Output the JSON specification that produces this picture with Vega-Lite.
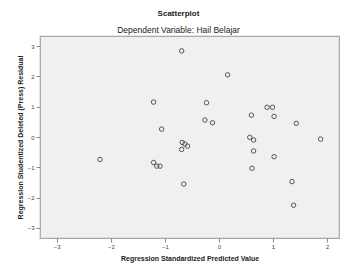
{
  "$schema": "https://vega.github.io/schema/vega-lite/v6.json",
  "width": 299,
  "height": 202,
  "autosize": {"type": "none"},
  "padding": {"left": 40, "top": 36, "right": 5, "bottom": 31},
  "background": "white",
  "title": {
    "text": "Scatterplot",
    "subtitle": "Dependent Variable: Hail Belajar",
    "font": "Liberation Sans",
    "fontSize": 8,
    "fontWeight": "bold",
    "color": "#222",
    "subtitleFont": "Liberation Sans",
    "subtitleFontSize": 8.5,
    "subtitleColor": "#222",
    "subtitlePadding": 8,
    "anchor": "middle",
    "dx": -11,
    "offset": 2
  },
  "config": {
    "view": {"fill": "#f0f0f0", "stroke": "#a8a8a8", "strokeWidth": 1.2}
  },
  "data": {
    "values": [
      {"pred": -0.69, "resid": 2.84},
      {"pred": -1.21, "resid": 1.15},
      {"pred": -1.06, "resid": 0.26},
      {"pred": 0.16, "resid": 2.05},
      {"pred": -0.23, "resid": 1.13},
      {"pred": -0.26, "resid": 0.56},
      {"pred": -0.12, "resid": 0.47},
      {"pred": 0.6, "resid": 0.72},
      {"pred": 0.89, "resid": 0.98},
      {"pred": 0.99, "resid": 0.98},
      {"pred": 1.02, "resid": 0.68},
      {"pred": 1.43, "resid": 0.45},
      {"pred": -0.68, "resid": -0.18},
      {"pred": -0.63, "resid": -0.23},
      {"pred": -0.58, "resid": -0.3},
      {"pred": -0.69, "resid": -0.41},
      {"pred": -2.2, "resid": -0.74},
      {"pred": -1.21, "resid": -0.84},
      {"pred": -1.15, "resid": -0.96},
      {"pred": -1.09, "resid": -0.96},
      {"pred": -0.65, "resid": -1.55},
      {"pred": 0.57, "resid": -0.01},
      {"pred": 0.64, "resid": -0.1},
      {"pred": 0.64, "resid": -0.46},
      {"pred": 1.02, "resid": -0.65},
      {"pred": 0.61, "resid": -1.03},
      {"pred": 1.88, "resid": -0.07},
      {"pred": 1.35, "resid": -1.47},
      {"pred": 1.38, "resid": -2.25}
    ]
  },
  "mark": {"type": "point", "shape": "circle", "filled": false, "size": 20, "stroke": "#555", "strokeWidth": 1, "opacity": 1},
  "encoding": {
    "x": {
      "field": "pred",
      "type": "quantitative",
      "scale": {"domain": [-3.31, 2.22], "nice": false, "zero": false},
      "axis": {
        "title": "Regression Standardized Predicted Value",
        "values": [-3, -2, -1, 0, 1, 2],
        "format": "d",
        "grid": false,
        "domain": false,
        "tickSize": 4,
        "tickColor": "#888",
        "labelFont": "Liberation Sans",
        "labelFontSize": 6,
        "labelColor": "#444",
        "labelPadding": 1,
        "titleFont": "Liberation Sans",
        "titleFontSize": 7,
        "titleFontWeight": "bold",
        "titleColor": "#222",
        "titlePadding": 5
      }
    },
    "y": {
      "field": "resid",
      "type": "quantitative",
      "scale": {"domain": [-3.33, 3.33], "nice": false, "zero": false},
      "axis": {
        "title": "Regression Studentized Deleted (Press) Residual",
        "values": [-3, -2, -1, 0, 1, 2, 3],
        "format": "d",
        "grid": false,
        "domain": false,
        "tickSize": 4,
        "tickColor": "#888",
        "labelFont": "Liberation Sans",
        "labelFontSize": 6,
        "labelColor": "#444",
        "labelPadding": 2,
        "titleFont": "Liberation Sans",
        "titleFontSize": 7,
        "titleFontWeight": "bold",
        "titleColor": "#222",
        "titlePadding": 4
      }
    }
  }
}
